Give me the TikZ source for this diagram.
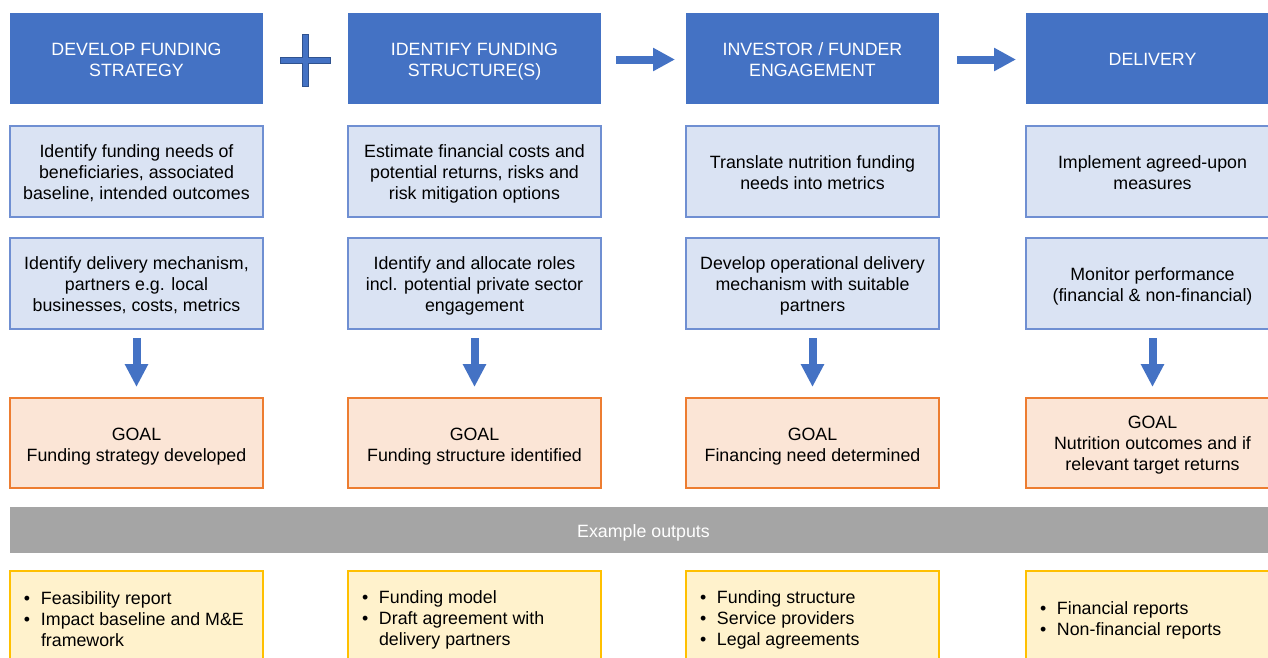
\documentclass[tikz,border=0pt]{standalone}
\usepackage{fontspec}
\setmainfont{Liberation Sans}
\usetikzlibrary{arrows.meta,calc}
\definecolor{hdrblue}{HTML}{4472C4}
\definecolor{hdrdark}{HTML}{2F528F}
\definecolor{taskfill}{HTML}{DAE3F3}
\definecolor{taskline}{HTML}{6F8FD2}
\definecolor{goalfill}{HTML}{FBE5D6}
\definecolor{goalline}{HTML}{ED7D31}
\definecolor{outfill}{HTML}{FFF2CC}
\definecolor{outline}{HTML}{FFC000}
\definecolor{barfill}{HTML}{A5A5A5}
% line boxes with fixed ascent and descent, so every text is centred alike
\newcommand\tb[1]{\rule{0pt}{18.5pt}#1\rule[-4pt]{0pt}{4pt}}
\newcommand\gb[1]{\rule{0pt}{20pt}#1\rule[-3pt]{0pt}{3pt}}
\newcommand\gbtall[1]{\rule{0pt}{16pt}#1\rule[-4pt]{0pt}{4pt}}
\newcommand\bul{\makebox[18pt][l]{\hspace*{1pt}\textbullet}}
\newcommand\hang{\hspace*{18pt}}
\begin{document}
\begin{tikzpicture}[x=1pt,y=-1pt,
  every node/.style={font=\fontsize{17.8}{21}\selectfont, inner sep=0pt, outer sep=0pt},
  header/.style={fill=hdrblue, text=white, minimum width=253pt, minimum height=91pt, align=center},
  taskbox/.style={fill=taskfill, draw=taskline, line width=1.5pt, minimum width=253pt, minimum height=91pt, align=center},
  goalbox/.style={fill=goalfill, draw=goalline, line width=1.5pt, minimum width=253pt, minimum height=90pt, align=center},
  outbox/.style={fill=outfill, draw=outline, line width=1.5pt, minimum width=253pt, minimum height=91pt},
  flowarrow/.style={draw=hdrblue, line width=8pt, -{Triangle[length=22pt,width=22pt]}},
  downarrow/.style={draw=hdrblue, line width=8pt, -{Triangle[length=23pt,width=22pt]}},
  bullets/.style={anchor=west, align=left}
]
\useasboundingbox (0,0) rectangle (1268,657);
\clip (0,0) rectangle (1268,657);

% column headers
\node[header] (h1) at (136.5,58.5) {\tb{DEVELOP FUNDING\\STRATEGY}};
\node[header] (h2) at (474.5,58.5) {\tb{IDENTIFY FUNDING\\STRUCTURE(S)}};
\node[header] (h3) at (812.5,58.5) {\tb{INVESTOR / FUNDER\\ENGAGEMENT}};
\node[header] (h4) at (1152.5,58.5) {\tb{DELIVERY}};

% first row of tasks
\node[taskbox] (a1) at (136.5,171.5) {\tb{Identify funding needs of\\beneficiaries, associated\\baseline, intended outcomes}};
\node[taskbox] (a2) at (474.5,171.5) {\tb{Estimate financial costs and\\potential returns, risks and\\risk mitigation options}};
\node[taskbox] (a3) at (812.5,171.5) {\tb{Translate nutrition funding\\needs into metrics}};
\node[taskbox] (a4) at (1152.5,171.5) {\tb{Implement agreed-upon\\measures}};

% second row of tasks
\node[taskbox] (b1) at (136.5,283.5) {\tb{Identify delivery mechanism,\\partners e.g. local\\businesses, costs, metrics}};
\node[taskbox] (b2) at (474.5,283.5) {\tb{Identify and allocate roles\\incl. potential private sector\\engagement}};
\node[taskbox] (b3) at (812.5,283.5) {\tb{Develop operational delivery\\mechanism with suitable\\partners}};
\node[taskbox] (b4) at (1152.5,283.5) {\tb{Monitor performance\\(financial \& non-financial)}};

% goals
\node[goalbox] (g1) at (136.5,443) {\gb{GOAL\\Funding strategy developed}};
\node[goalbox] (g2) at (474.5,443) {\gb{GOAL\\Funding structure identified}};
\node[goalbox] (g3) at (812.5,443) {\gb{GOAL\\Financing need determined}};
\node[goalbox] (g4) at (1152.5,443) {\gbtall{GOAL\\Nutrition outcomes and if\\relevant target returns}};

% example outputs band
\node[fill=barfill, text=white, minimum width=1300pt, minimum height=46pt, anchor=west] (bar) at (10,530) {\hspace*{-33pt}\tb{Example outputs}};

% output boxes
\node[outbox] (o1) at (136.5,616.5) {};
\node[outbox] (o2) at (474.5,616.5) {};
\node[outbox] (o3) at (812.5,616.5) {};
\node[outbox] (o4) at (1152.5,616.5) {};

\node[bullets] (t1) at ([xshift=13pt]o1.west) {\gb{\bul Feasibility report\\\bul Impact baseline and M\&E\\\hang framework}};
\node[bullets] (t2) at ([xshift=13pt]o2.west) {\gb{\bul Funding model\\\bul Draft agreement with\\\hang delivery partners}};
\node[bullets] (t3) at ([xshift=13pt]o3.west) {\gb{\bul Funding structure\\\bul Service providers\\\bul Legal agreements}};
\node[bullets] (t4) at ([xshift=13pt]o4.west) {\gb{\bul Financial reports\\\bul Non-financial reports}};

% plus sign between the first two headers
\coordinate (plus) at ($(h1.east)!0.5!(h2.west)+(0,1.5)$);
\filldraw[fill=hdrblue, draw=hdrdark, line width=0.8pt]
  (plus) ++(-25,-3) -- ++(22,0) -- ++(0,-23) -- ++(6,0) -- ++(0,23) -- ++(22,0)
  -- ++(0,6) -- ++(-22,0) -- ++(0,23) -- ++(-6,0) -- ++(0,-23) -- ++(-22,0) -- cycle;

% flow arrows between headers
\draw[flowarrow] ([xshift=15pt,yshift=-1pt]h2.east) -- ([xshift=-11pt,yshift=-1pt]h3.west);
\draw[flowarrow] ([xshift=18pt,yshift=-1pt]h3.east) -- ([xshift=-10pt,yshift=-1pt]h4.west);

% arrows down to the goals
\foreach \i in {1,2,3,4}
  \draw[downarrow] ([yshift=-9pt]b\i.south) -- ([yshift=11pt]g\i.north);
\end{tikzpicture}
\end{document}
